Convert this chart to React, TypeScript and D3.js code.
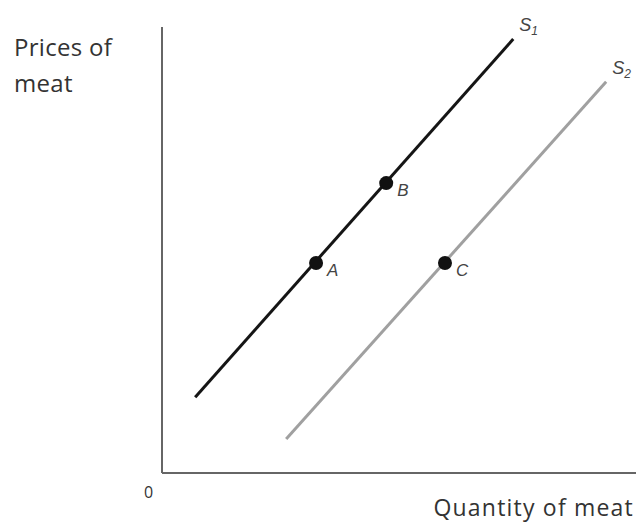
import React from "react";
import * as d3 from "d3";

const W = 636;
const H = 525;

const s1Line: [number, number][] = [[0.7, 1.7], [7.41, 9.73]];
const s2Line: [number, number][] = [[2.62, 0.76], [9.37, 8.77]];
const pointNames = ["A", "B", "C"];
const pointX = [3.25, 4.73, 5.97];
const pointY = [4.71, 6.5, 4.71];
const curveNames = ["S", "S"];
const curveSubs = ["1", "2"];

export default function App() {
  const x = d3.scaleLinear().domain([0, 10]).range([162, 636]);
  const y = d3.scaleLinear().domain([0, 10]).range([473, 27]);
  const line = d3
    .line<[number, number]>()
    .x((d) => x(d[0]))
    .y((d) => y(d[1]));
  const curves = [s1Line, s2Line];
  const colors = ["#151515", "#a0a0a0"];
  const italic = "Liberation Sans, Arial, sans-serif";
  return (
    <svg
      width={W}
      height={H}
      style={{ position: "absolute", left: 0, top: 0, background: "#fff" }}
    >
      <line x1={x(0)} y1={y(10)} x2={x(0)} y2={y(0)} stroke="#666" strokeWidth={2} />
      <line x1={x(0)} y1={y(0)} x2={x(10)} y2={y(0)} stroke="#666" strokeWidth={2} />
      {curves.map((c, i) => (
        <path key={i} d={line(c) || ""} stroke={colors[i]} strokeWidth={3} fill="none" />
      ))}
      {curves.map((c, i) => (
        <text
          key={"l" + i}
          x={x(c[1][0]) + 6}
          y={y(c[1][1]) - 8}
          fontFamily={italic}
          fontStyle="italic"
          fontSize={18}
          fill="#444"
        >
          {curveNames[i]}
          <tspan fontSize={12} dy={4}>{curveSubs[i]}</tspan>
        </text>
      ))}
      {pointNames.map((n, i) => (
        <g key={n}>
          <circle cx={x(pointX[i])} cy={y(pointY[i])} r={7} fill="#111" />
          <text
            x={x(pointX[i]) + 11}
            y={y(pointY[i]) + 13}
            fontFamily={italic}
            fontStyle="italic"
            fontSize={17}
            fill="#444"
          >
            {n}
          </text>
        </g>
      ))}
      <text x={14} y={56} fontFamily="Open Sans, sans-serif" fontSize={24} letterSpacing={0.3} fill="#333">
        Prices of
      </text>
      <text x={14} y={92} fontFamily="Open Sans, sans-serif" fontSize={24} letterSpacing={0.3} fill="#333">
        meat
      </text>
      <text x={144} y={498} fontFamily="Open Sans, sans-serif" fontSize={16} fill="#333">
        0
      </text>
      <text x={634} y={516} textAnchor="end" fontFamily="Open Sans, sans-serif" fontSize={23} letterSpacing={1.2} fill="#333">
        Quantity of meat
      </text>
    </svg>
  );
}
